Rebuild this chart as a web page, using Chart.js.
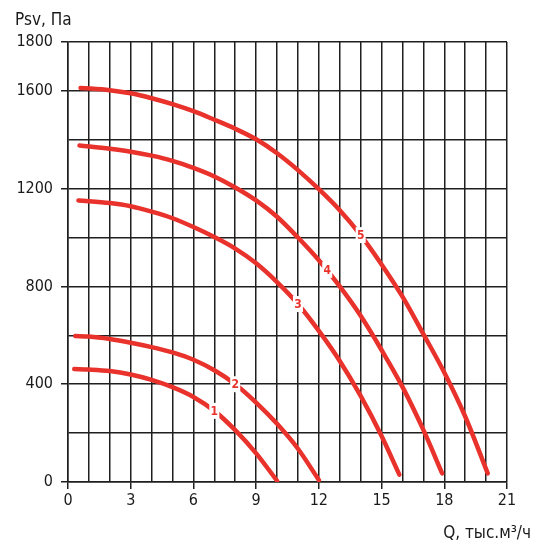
<!DOCTYPE html>
<html>
<head>
<meta charset="utf-8">
<script src="https://cdn.jsdelivr.net/npm/chart.js@4"></script>
<style>
  html, body { margin: 0; padding: 0; background: #fff; }
  #wrap { width: 537px; height: 545px; }
</style>
</head>
<body>
<div id="wrap"><canvas id="fanChart"></canvas></div>
<script>
// curve data, Q in thousand m3/h, Psv in Pa
const q1 = [0.3, 1, 2, 3, 4, 5, 6, 7, 8, 9, 10];
const p1 = [462, 460, 454, 440, 418, 388, 348, 291, 212, 117, 5];
const q2 = [0.35, 1, 2, 3, 4, 5, 6, 7, 8, 9, 10, 11, 12];
const p2 = [597, 595, 585, 570, 552, 530, 500, 457, 400, 325, 238, 136, 8];
const q3 = [0.5, 2, 3, 4, 5, 6, 7, 8, 9, 10, 11, 12, 13, 14, 15, 15.85];
const p3 = [1152, 1141, 1128, 1106, 1079, 1043, 1002, 955, 895, 818, 728, 618, 495, 352, 188, 30];
const q4 = [0.55, 2, 3, 4, 5, 6, 7, 8, 9, 10, 11, 12, 13, 14, 15, 16, 17, 17.9];
const p4 = [1377, 1363, 1351, 1335, 1314, 1285, 1250, 1205, 1152, 1085, 1000, 907, 800, 680, 540, 389, 213, 35];
const q5 = [0.6, 2, 3, 4, 5, 6, 7, 8, 9, 10, 11, 12, 13, 14, 15, 16, 17, 18, 19, 20.08];
const p5 = [1612, 1603, 1590, 1570, 1546, 1517, 1482, 1445, 1402, 1345, 1276, 1198, 1112, 1010, 890, 758, 605, 448, 268, 35];

// curve number tags (position on the curve)
const curveNames = ['1', '2', '3', '4', '5'];
const labelQ = [7, 8, 11, 12.4, 14];
const labelP = [291, 400, 728, 868, 1010];

const RED = '#e8322b';
const FONT = "'DejaVu Sans Condensed', 'Roboto', sans-serif";

function pts(q, p) {
  return q.map((v, i) => ({ x: v, y: p[i] }));
}

const curves = [[q1, p1], [q2, p2], [q3, p3], [q4, p4], [q5, p5]];

const datasets = curves.map((c, i) => ({
  label: curveNames[i],
  data: pts(c[0], c[1]),
  borderColor: RED,
  borderWidth: 4.5,
  borderCapStyle: 'round',
  pointRadius: 0,
  cubicInterpolationMode: 'monotone',
  fill: false
}));

const tagsPlugin = {
  id: 'tags',
  afterDatasetsDraw(chart) {
    const c = chart.ctx;
    const xs = chart.scales.x, ys = chart.scales.y;
    c.save();
    c.font = "bold 12px " + FONT;
    c.textAlign = 'center';
    c.textBaseline = 'middle';
    for (let i = 0; i < curveNames.length; i++) {
      const px = xs.getPixelForValue(labelQ[i]);
      const py = ys.getPixelForValue(labelP[i]);
      c.fillStyle = '#fff';
      c.fillRect(px - 5, py - 8, 10, 16);
      c.fillStyle = RED;
      c.fillText(curveNames[i], px, py + 1);
    }
    c.restore();
  },
  afterDraw(chart) {
    // axis titles
    const c = chart.ctx;
    c.save();
    c.fillStyle = '#1a1a1a';
    c.font = "17px " + FONT;
    c.textBaseline = 'alphabetic';
    c.textAlign = 'left';
    c.fillText('Psv, Па', 15, 25);
    c.textAlign = 'right';
    c.fillText('Q, тыс.м³/ч', 531, 538);
    c.restore();
  }
};

const ctx = document.getElementById('fanChart').getContext('2d');
const fanChart = new Chart(ctx, {
  type: 'line',
  data: { datasets: datasets },
  options: {
    responsive: true,
    maintainAspectRatio: false,
    animation: false,
    layout: { padding: { top: 42, right: 30, left: 0, bottom: 0 } },
    plugins: {
      legend: { display: false },
      tooltip: { enabled: false }
    },
    scales: {
      x: {
        type: 'linear',
        min: 0,
        max: 21,
        afterFit: (s) => { s.height = 63; },
        ticks: {
          stepSize: 1,
          autoSkip: false,
          maxRotation: 0,
          padding: 2,
          color: '#1a1a1a',
          font: { family: FONT, size: 16 },
          callback: (v) => (v % 3 === 0 ? v : '')
        },
        grid: {
          color: '#1f1f1f',
          lineWidth: 1.5,
          tickLength: 7,
          tickColor: (c) => (c.tick && c.tick.value % 3 === 0 ? '#1f1f1f' : 'rgba(0,0,0,0)')
        },
        border: { color: '#1f1f1f', width: 1.5 }
      },
      y: {
        min: 0,
        max: 1800,
        afterFit: (s) => { s.width = 68; },
        ticks: {
          stepSize: 200,
          autoSkip: false,
          padding: 8,
          color: '#1a1a1a',
          font: { family: FONT, size: 16 },
          callback: (v) => (v % 400 === 0 || v === 1800 ? v : '')
        },
        grid: {
          color: '#1f1f1f',
          lineWidth: 1.5,
          tickLength: 7,
          tickColor: (c) => (c.tick && (c.tick.value % 400 === 0 || c.tick.value === 1800) ? '#1f1f1f' : 'rgba(0,0,0,0)')
        },
        border: { color: '#1f1f1f', width: 1.5 }
      }
    }
  },
  plugins: [tagsPlugin]
});
</script>
</body>
</html>
